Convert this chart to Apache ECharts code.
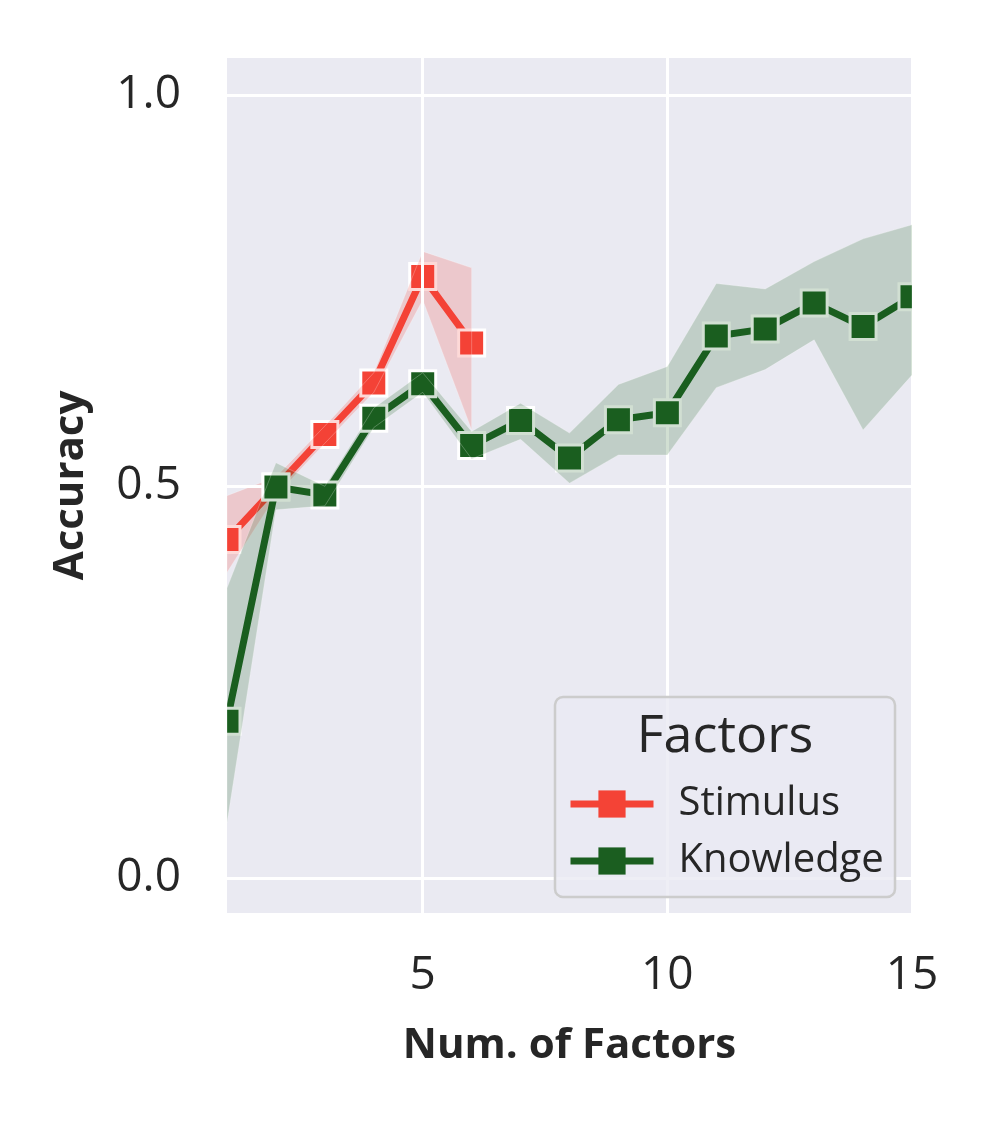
<!DOCTYPE html>
<html><head><meta charset="utf-8">
<script src="https://cdn.jsdelivr.net/npm/echarts@6/dist/echarts.min.js"></script>
<style>html,body{margin:0;padding:0;background:#fff}#c{width:998px;height:1123px}</style>
</head><body><div id="c"></div>
<script>
// ---- data ----
const stimulusX    = [1, 2, 3, 4, 5, 6];
const stimulusMean = [0.432, 0.499, 0.566, 0.632, 0.768, 0.683];
const stimulusLow  = [0.390, 0.488, 0.555, 0.620, 0.738, 0.572];
const stimulusHigh = [0.488, 0.512, 0.577, 0.645, 0.800, 0.779];

const knowledgeX    = [1, 2, 3, 4, 5, 6, 7, 8, 9, 10, 11, 12, 13, 14, 15];
const knowledgeMean = [0.200, 0.499, 0.489, 0.587, 0.631, 0.552, 0.584, 0.536, 0.585, 0.594, 0.692, 0.701, 0.734, 0.704, 0.742];
const knowledgeLow  = [0.070, 0.470, 0.475, 0.575, 0.620, 0.535, 0.560, 0.504, 0.540, 0.540, 0.626, 0.649, 0.687, 0.572, 0.642];
const knowledgeHigh = [0.370, 0.530, 0.500, 0.600, 0.645, 0.570, 0.606, 0.568, 0.630, 0.653, 0.759, 0.752, 0.787, 0.816, 0.834];

const xTickValues = [5, 10, 15];
const yTickValues = [0.0, 0.5, 1.0];
const seriesNames = ['Stimulus', 'Knowledge'];
const legendTitle = 'Factors';

// ---- chart ----
const RED = '#F44336', GREEN = '#1B5E20';
const FONT = 'Open Sans';
const chart = echarts.init(document.getElementById('c'), null, {renderer: 'canvas'});

function band(name, xs, lo, hi, fill, z) {
  return {
    type: 'custom', name: name, z: z, silent: true, clip: true,
    data: xs.map((x, i) => [x, lo[i], hi[i]]),
    encode: {x: 0, y: [1, 2]},
    renderItem: function (params, api) {
      if (params.dataIndex !== 0) return null;
      const pts = [];
      for (let i = 0; i < xs.length; i++) pts.push(api.coord([xs[i], hi[i]]));
      for (let i = xs.length - 1; i >= 0; i--) pts.push(api.coord([xs[i], lo[i]]));
      return {type: 'polygon', shape: {points: pts},
        style: {fill: fill, stroke: 'rgba(255,255,255,0.25)', lineWidth: 1}};
    }
  };
}
function line(name, xs, ys, color, z) {
  return {
    type: 'line', name: name, z: z,
    data: xs.map((x, i) => [x, ys[i]]),
    symbol: 'rect', symbolSize: 26, showSymbol: true,
    lineStyle: {color: color, width: 7},
    itemStyle: {color: color, borderColor: '#ffffff', borderWidth: 3},
    emphasis: {disabled: true}, animation: false
  };
}

const gridLines = [];
yTickValues.forEach(v => gridLines.push({yAxis: v}));
xTickValues.forEach(v => gridLines.push({xAxis: v}));

const option = {
  animation: false,
  textStyle: {fontFamily: FONT},
  grid: {left: 227, right: 86, top: 58, bottom: 210, show: true,
         backgroundColor: '#EAEAF2', borderWidth: 0},
  xAxis: {
    type: 'value', min: 1, max: 15,
    axisLine: {show: false}, axisTick: {show: false}, splitLine: {show: false},
    axisLabel: {customValues: xTickValues, fontSize: 46, color: '#262626', margin: 40,
                fontFamily: FONT, formatter: v => String(v)},
    name: 'Num. of Factors', nameLocation: 'middle', nameGap: 112,
    nameTextStyle: {fontSize: 42, fontWeight: 'bold', color: '#262626', fontFamily: FONT}
  },
  yAxis: {
    type: 'value', min: -0.045, max: 1.047,
    axisLine: {show: false}, axisTick: {show: false}, splitLine: {show: false},
    axisLabel: {customValues: yTickValues, fontSize: 46, color: '#262626', margin: 46,
                fontFamily: FONT, formatter: v => v.toFixed(1)},
    name: 'Accuracy', nameLocation: 'middle', nameGap: 135,
    nameTextStyle: {fontSize: 42, fontWeight: 'bold', color: '#262626', fontFamily: FONT}
  },
  legend: {
    data: seriesNames, orient: 'vertical', left: 567, top: 784,
    itemWidth: 83, itemHeight: 34, itemGap: 17, padding: 0, z: 80,
    itemStyle: {borderWidth: 0},
    lineStyle: {width: 7},
    textStyle: {fontSize: 40, color: '#262626', fontFamily: FONT, padding: [0, 0, 0, 20]},
    selectedMode: false
  },
  graphic: [
    {type: 'rect', z: 50, silent: true, shape: {x: 190, y: 40, width: 37, height: 900},
     style: {fill: '#ffffff'}},
    {type: 'rect', z: 50, silent: true, shape: {x: 912, y: 40, width: 40, height: 900},
     style: {fill: '#ffffff'}},
    {type: 'rect', z: 60, silent: true, shape: {x: 555, y: 697, width: 340, height: 200, r: 8},
     style: {fill: 'rgba(234,234,242,0.8)', stroke: '#cccccc', lineWidth: 2.5}},
    {type: 'text', z: 80, silent: true, x: 725, y: 737,
     style: {text: legendTitle, fontSize: 52, fontFamily: FONT, fill: '#262626',
             align: 'center', verticalAlign: 'middle'}}
  ],
  series: [
    {type: 'line', name: 'grid', data: [], z: 1, silent: true,
     markLine: {silent: true, symbol: 'none', label: {show: false}, animation: false,
                lineStyle: {color: '#ffffff', width: 3, type: 'solid'}, data: gridLines}},
    line(seriesNames[0], stimulusX, stimulusMean, RED, 3),
    band('Stimulus CI', stimulusX, stimulusLow, stimulusHigh, 'rgba(244,67,54,0.2)', 4),
    line(seriesNames[1], knowledgeX, knowledgeMean, GREEN, 5),
    band('Knowledge CI', knowledgeX, knowledgeLow, knowledgeHigh, 'rgba(27,94,32,0.2)', 6)
  ]
};
chart.setOption(option);
</script></body></html>
